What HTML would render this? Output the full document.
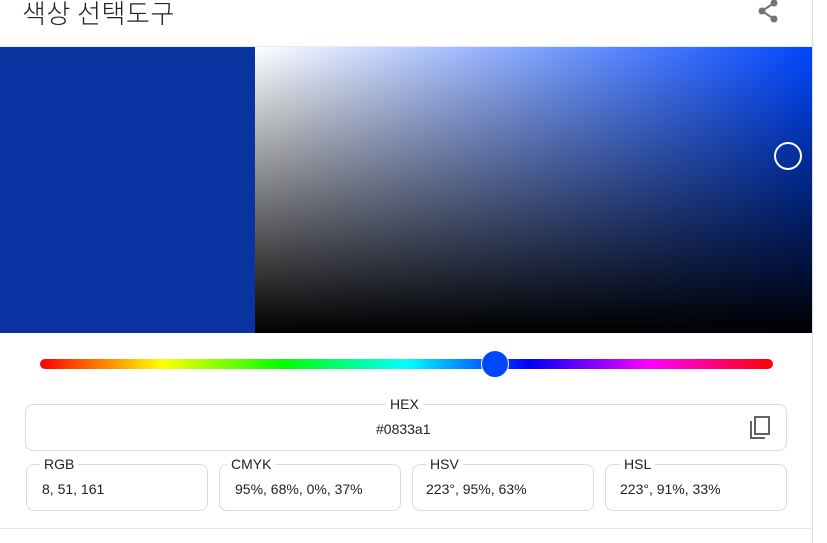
<!DOCTYPE html>
<html><head><meta charset="utf-8"><style>
body{margin:0;width:827px;height:543px;background:#fff;position:relative;overflow:hidden;font-family:"Liberation Sans","Noto Sans CJK KR",sans-serif;color:#202124}
.abs{position:absolute}
.box{position:absolute;border:1px solid #dadce0;border-radius:8px;box-sizing:border-box}
.lbl{position:absolute;top:-9px;background:#fff;padding:0 4px;font-size:14px;line-height:16px}
.val{position:absolute;font-size:14px;line-height:16px}
</style></head><body>
<div class="abs" style="left:22px;top:-4px;font-size:26px;line-height:34px;font-family:'Noto Sans CJK KR',sans-serif;font-weight:300;letter-spacing:0.5px;">색상 선택도구</div>
<svg class="abs" style="left:756px;top:-2px" width="24" height="26" viewBox="0 0 24 26"><g fill="#70757a"><circle cx="18" cy="5" r="3.5"/><circle cx="6" cy="13" r="3.5"/><circle cx="18" cy="21" r="3.5"/></g><path d="M18 5L6 13L18 21" stroke="#70757a" stroke-width="2" fill="none"/></svg>
<div class="abs" style="left:812px;top:0;width:1px;height:543px;background:#dadce0"></div>
<div class="abs" style="left:0;top:46px;width:812px;height:1px;background:#e8eaed"></div>
<div class="abs" style="left:0;top:47px;width:255px;height:286px;background:#0833a1"></div>
<div class="abs" style="left:255px;top:47px;width:557px;height:286px;background:linear-gradient(to bottom,rgba(0,0,0,0),#000),linear-gradient(to right,#fff,#0046ff)"></div>
<div class="abs" style="left:774px;top:142px;width:28px;height:28px;border:2px solid #fff;border-radius:50%;box-sizing:border-box"></div>
<div class="abs" style="left:40px;top:359px;width:733px;height:10px;border-radius:5px;background:linear-gradient(to right,#f00,#ff0 16.7%,#0f0 33.3%,#0ff 50%,#00f 66.7%,#f0f 83.3%,#f00)"></div>
<div class="abs" style="left:481px;top:350px;width:28px;height:28px;border-radius:50%;background:#0047ff;border:1px solid #fff;box-sizing:border-box"></div>
<div class="box" style="left:25px;top:404px;width:762px;height:47px">
 <span class="lbl" style="left:360px">HEX</span>
 <span class="val" style="left:350px;top:16px">#0833a1</span>
 <svg class="abs" style="left:722px;top:10px" width="24" height="26" viewBox="0 0 24 26"><path d="M3 6v17h14" stroke="#5f6368" stroke-width="2" fill="none"/><rect x="7" y="2" width="14" height="17" stroke="#5f6368" stroke-width="2" fill="none"/></svg>
</div>
<div class="box" style="left:26px;top:464px;width:182px;height:47px"><span class="lbl" style="left:13px">RGB</span><span class="val" style="left:15px;top:16px">8, 51, 161</span></div>
<div class="box" style="left:219px;top:464px;width:182px;height:47px"><span class="lbl" style="left:7px">CMYK</span><span class="val" style="left:15px;top:16px">95%, 68%, 0%, 37%</span></div>
<div class="box" style="left:412px;top:464px;width:182px;height:47px"><span class="lbl" style="left:13px">HSV</span><span class="val" style="left:13px;top:16px">223°, 95%, 63%</span></div>
<div class="box" style="left:605px;top:464px;width:182px;height:47px"><span class="lbl" style="left:14px">HSL</span><span class="val" style="left:14px;top:16px">223°, 91%, 33%</span></div>
<div class="abs" style="left:0;top:528px;width:812px;height:1px;background:#e8eaed"></div>
</body></html>
